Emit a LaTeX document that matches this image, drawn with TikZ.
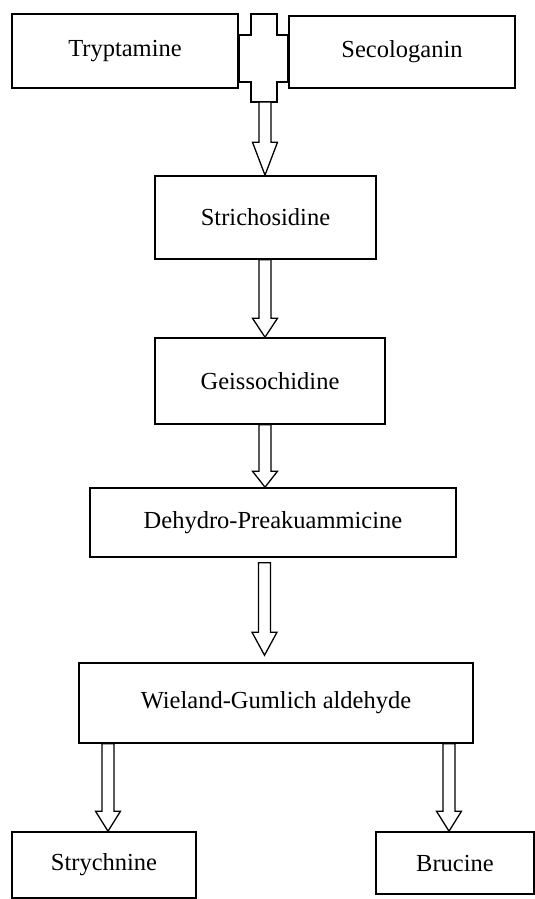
\documentclass[tikz,border=0pt]{standalone}
\usepackage{fontspec}
\setmainfont{Liberation Serif}
\usetikzlibrary{calc}
\tikzset{
  box/.style={draw, line width=1.6pt, rectangle, inner sep=0pt, font=\fontsize{24.5}{29}\selectfont},
  barrow/.style={draw, line width=1.3pt, fill=white, line join=miter},
}
\newcommand{\blockarr}[3]{%
  \draw[barrow] let \p1=(#1), \p2=(#2) in
   (\x1-6pt,\y1) -- (\x1-6pt,\y2+#3pt) -- (\x1-12.5pt,\y2+#3pt) -- (\x1,\y2)
   -- (\x1+12.5pt,\y2+#3pt) -- (\x1+6pt,\y2+#3pt) -- (\x1+6pt,\y1) -- cycle;}
\begin{document}
\begin{tikzpicture}[x=1pt,y=-1pt]
\useasboundingbox (0,0) rectangle (535,899);
% boxes
\node[box, minimum width=226pt, minimum height=74pt] (try) at (125,51) {Tryptamine};
\node[box, minimum width=226pt, minimum height=72pt] (sec) at (402,52) {Secologanin};
\node[box, minimum width=221pt, minimum height=83pt] (str) at (265.5,217.5) {Strichosidine};
\node[box, minimum width=230pt, minimum height=86pt] (gei) at (270,381) {Geissochidine};
\node[box, minimum width=366pt, minimum height=69pt] (deh) at (273,522.5) {Dehydro-Preakuammicine};
\node[box, minimum width=394pt, minimum height=80pt] (wie) at (276,703) {Wieland-Gumlich aldehyde};
\node[box, minimum width=184pt, minimum height=66pt] (sty) at (104,865) {Strychnine};
\node[box, minimum width=158pt, minimum height=62pt] (bru) at (455,863) {Brucine};
% plus sign joining the two precursors
\draw[line width=1.6pt, line join=miter]
  (251,14) -- (277,14) -- (277,35) -- (sec.west |- 0,35) -- (sec.west |- 0,82)
  -- (277,82) -- (277,102) -- (251,102) -- (251,82) -- (try.east |- 0,82)
  -- (try.east |- 0,35) -- (251,35) -- cycle;
\coordinate (plusb) at (265,102);
% columns
\coordinate (c1) at (265,0);
\coordinate (c4) at (264.5,0);
\coordinate (c5) at (108,0);
\coordinate (c6) at (449,0);
% arrow end points
\coordinate (a1e) at (str.north -| c1);
\coordinate (a2s) at (str.south -| c1);
\coordinate (a2e) at (gei.north -| c1);
\coordinate (a3s) at (gei.south -| c1);
\coordinate (a3e) at (deh.north -| c1);
\path (deh.south -| c4) ++(0,5) coordinate (a4s);
\path (wie.north -| c4) ++(0,-7) coordinate (a4e);
\coordinate (a5s) at (wie.south -| c5);
\coordinate (a5e) at (sty.north -| c5);
\coordinate (a6s) at (wie.south -| c6);
\coordinate (a6e) at (bru.north -| c6);
% block arrows
\blockarr{plusb}{a1e}{33}
\blockarr{a2s}{a2e}{19}
\blockarr{a3s}{a3e}{16}
\blockarr{a4s}{a4e}{23}
\blockarr{a5s}{a5e}{20}
\blockarr{a6s}{a6e}{20}
\end{tikzpicture}
\end{document}
